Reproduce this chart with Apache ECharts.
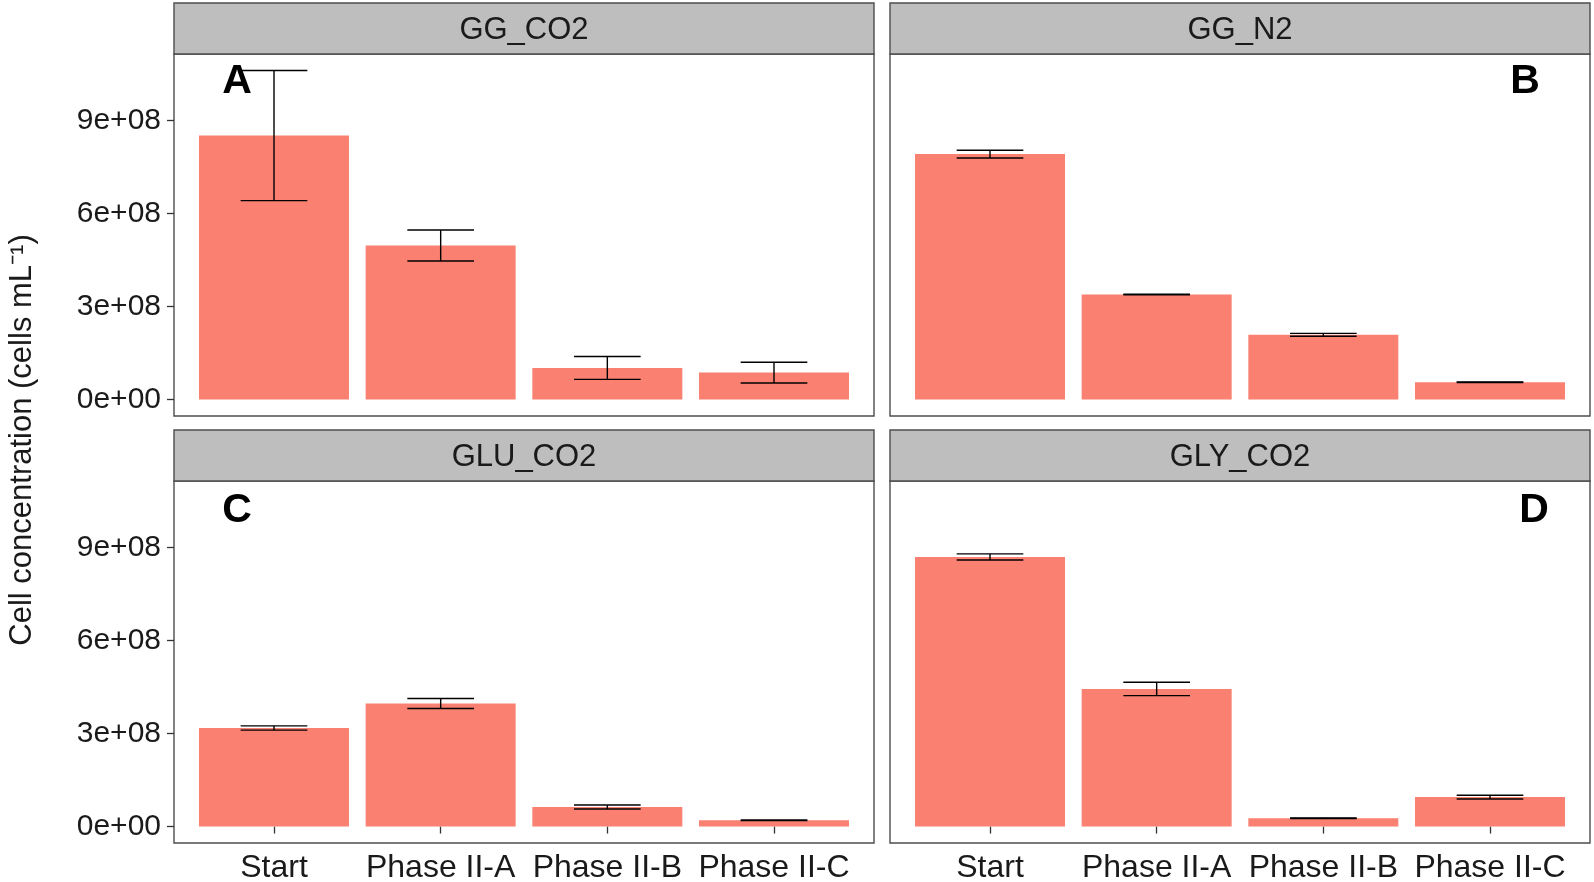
<!DOCTYPE html>
<html>
<head>
<meta charset="utf-8">
<script src="https://cdn.jsdelivr.net/npm/echarts@6/dist/echarts.min.js"></script>
<style>html,body{margin:0;padding:0;background:#fff;}#c{width:1594px;height:882px;}</style>
</head>
<body>
<div id="c"></div>
<script>
// ---- data ----
const categories = ['Start', 'Phase II-A', 'Phase II-B', 'Phase II-C'];
const panelNames = ['GG_CO2', 'GG_N2', 'GLU_CO2', 'GLY_CO2'];
const panelLetters = ['A', 'B', 'C', 'D'];
const meanGG_CO2 = [8.52e8, 4.97e8, 1.02e8, 0.87e8];
const errGG_CO2  = [2.10e8, 0.50e8, 0.37e8, 0.335e8];
const meanGG_N2  = [7.92e8, 3.39e8, 2.09e8, 0.56e8];
const errGG_N2   = [0.125e8, 0.01e8, 0.045e8, 0.01e8];
const meanGLU_CO2 = [3.18e8, 3.97e8, 0.63e8, 0.20e8];
const errGLU_CO2  = [0.07e8, 0.16e8, 0.065e8, 0.01e8];
const meanGLY_CO2 = [8.70e8, 4.44e8, 0.27e8, 0.95e8];
const errGLY_CO2  = [0.10e8, 0.215e8, 0.01e8, 0.06e8];
const yTickValues = [0, 3e8, 6e8, 9e8];
const yTickLabels = ['0e+00', '3e+08', '6e+08', '9e+08'];
const yAxisTitle = 'Cell concentration (cells mL\u207B\u00B9)';

const means = [meanGG_CO2, meanGG_N2, meanGLU_CO2, meanGLY_CO2];
const errs = [errGG_CO2, errGG_N2, errGLU_CO2, errGLY_CO2];

// ---- layout ----
const FONT = '"Liberation Sans", Arial, sans-serif';
const grids = [
  {left: 174, top: 54, width: 700, height: 362},
  {left: 890, top: 54, width: 700, height: 362},
  {left: 174, top: 481, width: 700, height: 362},
  {left: 890, top: 481, width: 700, height: 362}
];
const stripH = 51;
const barColor = '#FA8072';
const borderColor = '#4d4d4d';
const yMin = -0.531e8, yMax = 11.151e8;
const xTickValues = categories.map((c, i) => i + 1);

const chart = echarts.init(document.getElementById('c'), null, {renderer: 'canvas'});

const xAxes = [], yAxes = [], series = [], graphics = [];
grids.forEach((g, i) => {
  const bottomRow = i >= 2, leftCol = i % 2 === 0;
  xAxes.push({
    type: 'value', gridIndex: i, min: 0.4, max: 4.6,
    axisLine: {show: false}, splitLine: {show: false},
    axisTick: {show: bottomRow, length: 7, customValues: xTickValues, lineStyle: {color: '#333', width: 1.3}},
    axisLabel: {show: bottomRow, customValues: xTickValues, margin: 9,
      fontFamily: FONT, fontSize: 32, color: '#1a1a1a',
      formatter: v => categories[Math.round(v) - 1] || ''}
  });
  yAxes.push({
    type: 'value', gridIndex: i, min: yMin, max: yMax,
    axisLine: {show: false}, splitLine: {show: false},
    axisTick: {show: leftCol, length: 7, customValues: yTickValues, lineStyle: {color: '#333', width: 1.3}},
    axisLabel: {show: leftCol, customValues: yTickValues, margin: 13,
      fontFamily: FONT, fontSize: 30, color: '#1a1a1a',
      formatter: v => { const k = yTickValues.indexOf(v); return k >= 0 ? yTickLabels[k] : ''; }}
  });
  series.push({
    type: 'custom', xAxisIndex: i, yAxisIndex: i, z: 2,
    data: means[i].map((m, k) => [k + 1, m]),
    renderItem: (params, api) => {
      const x = api.value(0), y = api.value(1);
      const p0 = api.coord([x - 0.45, 0]);
      const p1 = api.coord([x + 0.45, y]);
      return {type: 'rect', shape: {x: p0[0], y: p1[1], width: p1[0] - p0[0], height: p0[1] - p1[1]},
        style: {fill: barColor}};
    }
  });
  series.push({
    type: 'custom', xAxisIndex: i, yAxisIndex: i, z: 3,
    data: means[i].map((m, k) => [k + 1, m - errs[i][k], m + errs[i][k]]),
    renderItem: (params, api) => {
      const x = api.value(0), lo = api.value(1), hi = api.value(2);
      const a = api.coord([x, lo]), b = api.coord([x, hi]);
      const l = api.coord([x - 0.2, lo])[0], r = api.coord([x + 0.2, lo])[0];
      const st = {stroke: '#000', lineWidth: 1.4};
      return {type: 'group', children: [
        {type: 'line', shape: {x1: a[0], y1: a[1], x2: b[0], y2: b[1]}, style: st},
        {type: 'line', shape: {x1: l, y1: a[1], x2: r, y2: a[1]}, style: st},
        {type: 'line', shape: {x1: l, y1: b[1], x2: r, y2: b[1]}, style: st}
      ]};
    }
  });
  // strip
  graphics.push({type: 'rect', shape: {x: g.left, y: g.top - stripH, width: g.width, height: stripH},
    style: {fill: '#BEBEBE', stroke: borderColor, lineWidth: 1.4}, z: 10});
  graphics.push({type: 'text', x: g.left + g.width / 2, y: g.top - stripH / 2 + 2, z: 11,
    style: {text: panelNames[i], font: '31px ' + FONT, fill: '#1a1a1a', textAlign: 'center', textVerticalAlign: 'middle'}});
});

const letterPos = [[237, 82], [1525, 82], [237, 511], [1534, 511]];
panelLetters.forEach((t, i) => {
  graphics.push({type: 'text', x: letterPos[i][0], y: letterPos[i][1], z: 12,
    style: {text: t, font: 'bold 41px ' + FONT, fill: '#000', textAlign: 'center', textVerticalAlign: 'middle'}});
});
graphics.push({type: 'text', x: 22, y: 440, rotation: Math.PI / 2, z: 12,
  style: {text: yAxisTitle, font: '31px ' + FONT, fill: '#1a1a1a', textAlign: 'center', textVerticalAlign: 'middle'}});

chart.setOption({
  animation: false,
  backgroundColor: '#fff',
  grid: grids.map(g => Object.assign({show: true, outerBoundsMode: 'none', containLabel: false,
    backgroundColor: '#fff', borderColor: borderColor, borderWidth: 1.4}, g)),
  xAxis: xAxes,
  yAxis: yAxes,
  series: series,
  graphic: graphics
});
</script>
</body>
</html>
